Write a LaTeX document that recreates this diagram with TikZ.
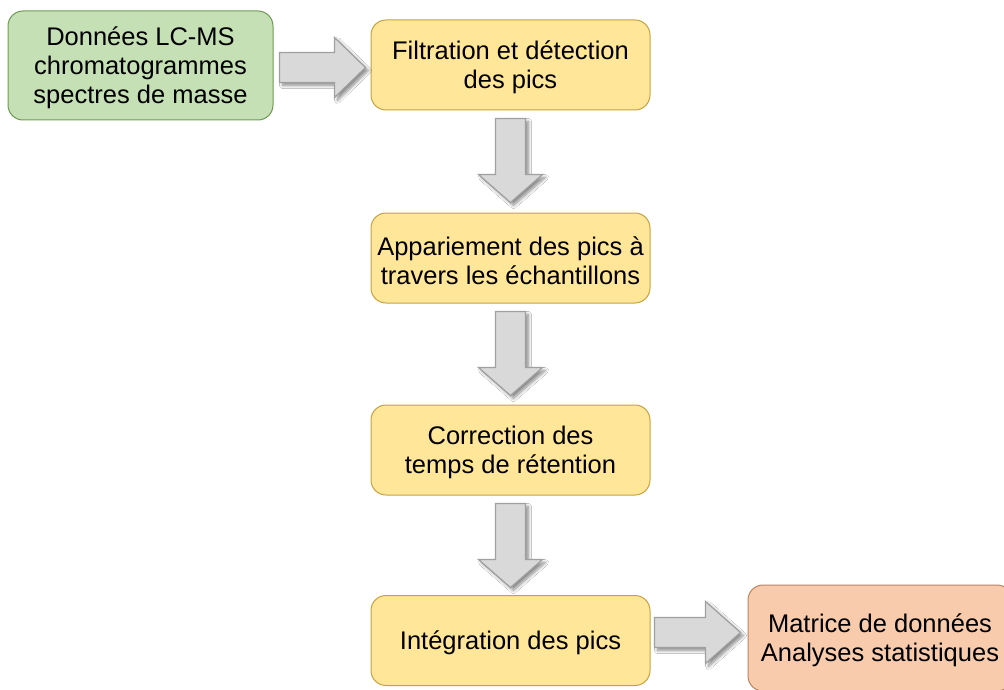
\documentclass[tikz,border=0pt]{standalone}
\usepackage{fontspec}
\setmainfont{Liberation Sans}
\usetikzlibrary{calc,shadows.blur}
\definecolor{gfill}{HTML}{C5E0B4}
\definecolor{gdraw}{HTML}{6F9A56}
\definecolor{yfill}{HTML}{FFE699}
\definecolor{ydraw}{HTML}{C5A340}
\definecolor{ofill}{HTML}{F8CBAD}
\definecolor{odraw}{HTML}{B98564}
\definecolor{afill}{HTML}{D9D9D9}
\definecolor{adraw}{HTML}{A0A0A0}
\tikzset{
  box/.style={rounded corners=15pt, line width=1pt, inner sep=0pt},
  txt/.style={align=center, inner sep=0pt, yshift=-2.5pt,
    font=\fontsize{25.5}{29}\selectfont, text=black},
  gbox/.style={box, fill=gfill, draw=gdraw, minimum width=265pt, minimum height=109pt},
  ybox/.style={box, fill=yfill, draw=ydraw, minimum width=279pt, minimum height=90pt},
  obox/.style={box, fill=ofill, draw=odraw, minimum width=264pt, minimum height=106pt},
  barrow/.style={fill=afill, draw=adraw, line width=1.2pt, line join=miter,
    blur shadow={shadow xshift=3pt, shadow yshift=-3pt, shadow blur steps=8,
      shadow blur radius=3pt, shadow opacity=45}},
}
\begin{document}
\begin{tikzpicture}[x=1pt,y=-1pt]
\clip (0,0) rectangle (1004,690);
\fill[white] (0,0) rectangle (1004,690);
\node[gbox, label={[txt]center:{Données LC-MS\\chromatogrammes\\spectres de masse}}] (g) at (140.5,65.5) {};
\node[ybox, label={[txt]center:{Filtration et détection\\des pics}}] (f1) at (510.5,65) {};
\node[ybox, label={[txt]center:{Appariement des pics à\\travers les échantillons}}] (f2) at (510.5,258) {};
\node[ybox, label={[txt]center:{Correction des\\temps de rétention}}] (f3) at (510.5,450) {};
\node[ybox, label={[txt]center:{Intégration des pics}}] (f4) at (510.5,640.5) {};
\node[obox, label={[txt]center:{Matrice de données\\Analyses statistiques}}] (o) at (880,638) {};
% horizontal arrows
\draw[barrow] ($(g.east)+(6,2)$) -- ++(0,-15) -- ++(55,0) -- ++(0,-15) -- ++(31,30) -- ++(-31,30) -- ++(0,-15) -- ++(-55,0) -- cycle;
\draw[barrow] ($(f4.east)+(4,-8)$) -- ++(0,-15) -- ++(51,0) -- ++(0,-16) -- ++(35,31) -- ++(-35,31) -- ++(0,-16) -- ++(-51,0) -- cycle;
% vertical arrows
\foreach \a/\b in {f1/f2,f2/f3,f3/f4}{
  \draw[barrow] ($(\a.south)+(0,8)$) -- ++(15,0) -- ++(0,56) -- ++(17,0) -- ++(-32,28) -- ++(-32,-28) -- ++(17,0) -- ++(0,-56) -- cycle;
}
\end{tikzpicture}
\end{document}
